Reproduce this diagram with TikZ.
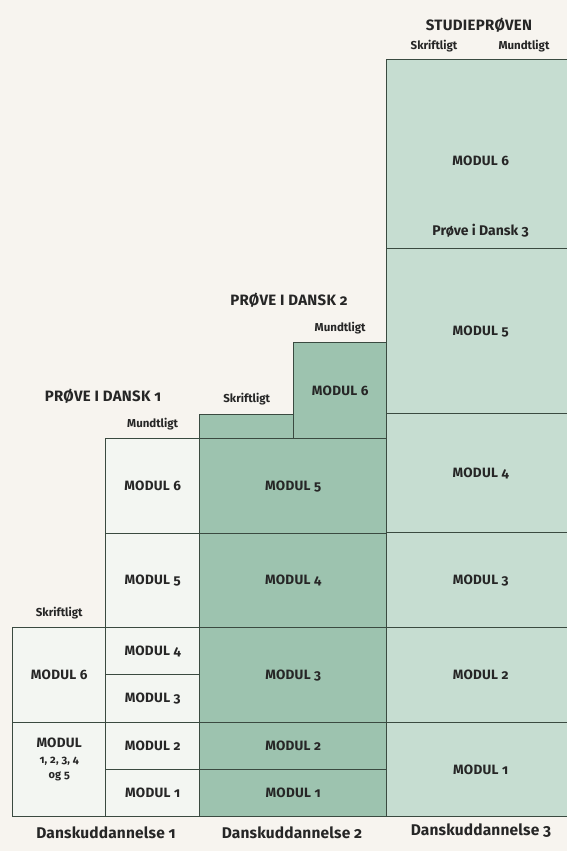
\documentclass[tikz,border=0pt]{standalone}
\usepackage{fontspec}
\setmainfont{Fira Sans}[Numbers=OldStyle]
\usetikzlibrary{positioning}
\definecolor{paper}{HTML}{F7F4EF}
\definecolor{pale}{HTML}{F3F6F2}
\definecolor{deep}{HTML}{9DC3AF}
\definecolor{mint}{HTML}{C6DDD1}
\definecolor{rule}{HTML}{3A4A40}
\tikzset{
celltext/.style = {text=black!85, align=center, font=\bfseries\fontsize{13.5}{15}\selectfont\addfontfeatures{LetterSpace=2}},
cell/.style = {celltext, draw=rule, line width=1.4pt, rectangle, inner sep=0pt, anchor=north west},
du1/.style = {cell, fill=pale},
du2/.style = {cell, fill=deep},
du3/.style = {cell, fill=mint},
head/.style = {text=black!85, font=\bfseries\fontsize{15}{17}\selectfont\addfontfeatures{LetterSpace=2}},
sub/.style  = {text=black!85, font=\bfseries\fontsize{11.5}{13}\selectfont},
foot/.style = {text=black!85, font=\bfseries\fontsize{15.5}{17}\selectfont\addfontfeatures{LetterSpace=1}}
}

\begin{document}
\begin{tikzpicture}[x=1pt, y=-1pt, node distance=4pt]
    \useasboundingbox (0,0) rectangle (567,851);
    \fill [paper] (0,0) rectangle (567,851);
    \clip (0,0) rectangle (567,851);
    % Danskuddannelse 1
    \node [du1, minimum width=93pt, minimum height=95pt] (d1s6) at (12,627) {MODUL 6};
    \node [du1, minimum width=93pt, minimum height=94pt] (d1s1) at (12,722)
        {MODUL\\[1pt]{\fontsize{11}{13}\selectfont 1, 2, 3, 4}\\{\fontsize{11}{13}\selectfont og 5}\\[9pt]};
    \node [du1, minimum width=94pt, minimum height=95pt] (d1m6) at (105,438) {MODUL 6};
    \node [du1, minimum width=94pt, minimum height=94pt] (d1m5) at (105,533) {MODUL 5};
    \node [du1, minimum width=94pt, minimum height=47pt] (d1m4) at (105,627) {MODUL 4};
    \node [du1, minimum width=94pt, minimum height=48pt] (d1m3) at (105,674) {MODUL 3};
    \node [du1, minimum width=94pt, minimum height=47pt] (d1m2) at (105,722) {MODUL 2};
    \node [du1, minimum width=94pt, minimum height=47pt] (d1m1) at (105,769) {MODUL 1};
    % Danskuddannelse 2
    \node [du2, minimum width=94pt, minimum height=24pt] (d2s) at (199,414) {};
    \node [du2, minimum width=93pt, minimum height=96pt] (d2m6) at (293,342) {MODUL 6};
    \node [du2, minimum width=187pt, minimum height=95pt] (d2m5) at (199,438) {MODUL 5};
    \node [du2, minimum width=187pt, minimum height=94pt] (d2m4) at (199,533) {MODUL 4};
    \node [du2, minimum width=187pt, minimum height=95pt] (d2m3) at (199,627) {MODUL 3};
    \node [du2, minimum width=187pt, minimum height=47pt] (d2m2) at (199,722) {MODUL 2};
    \node [du2, minimum width=187pt, minimum height=47pt] (d2m1) at (199,769) {MODUL 1};
    % Danskuddannelse 3
    \node [du3, minimum width=188pt, minimum height=189pt] (d3m6) at (386,59) {};
    \node [du3, minimum width=188pt, minimum height=165pt] (d3m5) at (386,248) {MODUL 5};
    \node [du3, minimum width=188pt, minimum height=119pt] (d3m4) at (386,413) {MODUL 4};
    \node [du3, minimum width=188pt, minimum height=95pt] (d3m3) at (386,532) {MODUL 3};
    \node [du3, minimum width=188pt, minimum height=95pt] (d3m2) at (386,627) {MODUL 2};
    \node [du3, minimum width=188pt, minimum height=94pt] (d3m1) at (386,722) {MODUL 1};
    \node [celltext, yshift=-7pt] (t6) at (d3m6.center) {MODUL 6};
    \node [head, above=8pt of d3m6.south, font=\bfseries\fontsize{14}{16}\selectfont] (p3) {Prøve i Dansk 3};
    % overskrifter
    \node [sub, above=4pt of d1s6] (s1) {Skriftligt};
    \node [sub, above=4pt of d1m6] (m1) {Mundtligt};
    \node [head] (p1) at (103,396) {PRØVE I DANSK 1};
    \node [sub, above=5pt of d2s] (s2) {Skriftligt};
    \node [sub, above=4pt of d2m6] (m2) {Mundtligt};
    \node [head] (p2) at (289,300) {PRØVE I DANSK 2};
    \node [head] (sp) at (479,25) {STUDIEPRØVEN};
    \node [sub] (s3) at (434,46) {Skriftligt};
    \node [sub] (m3) at (524,46) {Mundtligt};
    % fod
    \node [foot] (u1) at (106,833) {Danskuddannelse 1};
    \node [foot] (u2) at (292,833) {Danskuddannelse 2};
    \node [foot] (u3) at (481,831) {Danskuddannelse 3};
\end{tikzpicture}
\end{document}
